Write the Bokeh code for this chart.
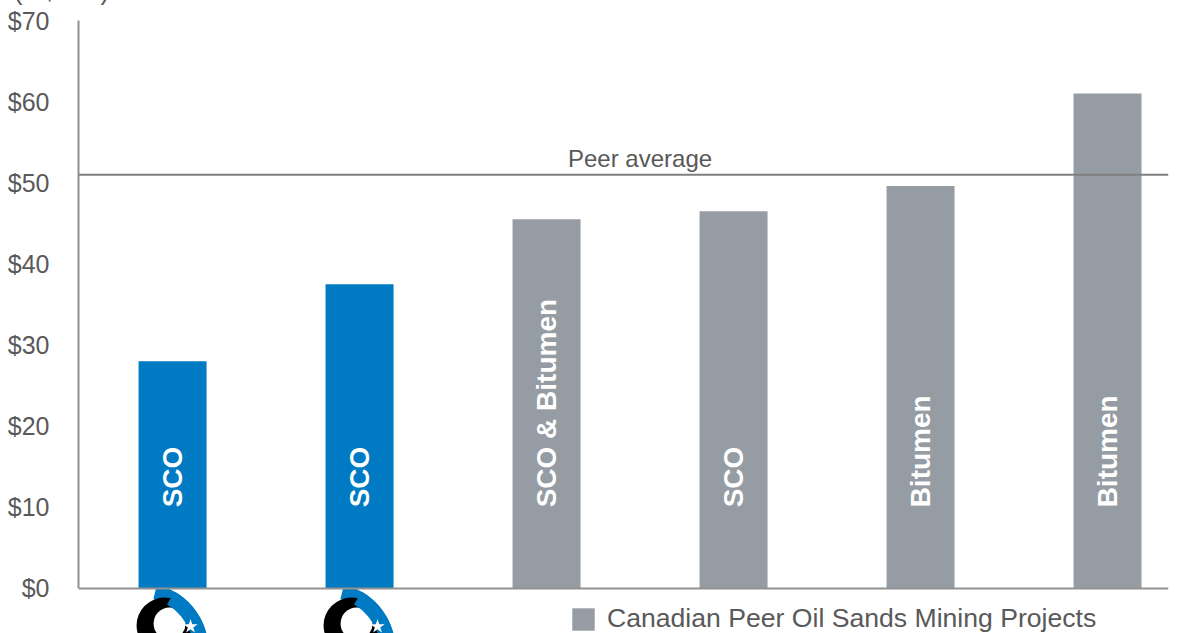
import math
from bokeh.plotting import figure
from bokeh.models import (Range1d, Span, Label, FixedTicker, PrintfTickFormatter,
                          ColumnDataSource, Legend, LegendItem, Title)
from bokeh.core.properties import value
from bokeh.embed import file_html
from bokeh.resources import INLINE

# ---- data ----
projects = ["CNRL Horizon", "CNRL AOSP", "Peer 1", "Peer 2", "Peer 3", "Peer 4"]
product_labels = ["SCO", "SCO", "SCO & Bitumen", "SCO", "Bitumen", "Bitumen"]
costs = [28.0, 37.5, 45.5, 46.5, 49.6, 61.0]
groups = ["own", "own", "peer", "peer", "peer", "peer"]
peer_average = 51.0
y_ticks = [0, 10, 20, 30, 40, 50, 60, 70]
unit_label = "(C$/bbl)"
legend_label = "Canadian Peer Oil Sands Mining Projects"
peer_avg_label = "Peer average"

BLUE = "#007AC2"
GREY = "#959CA3"
TEXT = "#595959"
FONT = "Liberation Sans"

idx = list(range(len(projects)))
own = [i for i in idx if groups[i] == "own"]
peer = [i for i in idx if groups[i] == "peer"]

p = figure(width=1187, height=633, output_backend="svg", toolbar_location=None,
           x_range=Range1d(-0.503, 5.326), y_range=Range1d(-5.546, 70))
p.min_border = 0
p.min_border_left = 78
p.min_border_right = 19
p.min_border_top = 20
p.min_border_bottom = 0
p.outline_line_color = None
p.grid.visible = False
p.background_fill_color = "white"
p.border_fill_color = "white"

# unit label as a title, mostly above the visible area like the reference
p.add_layout(Title(text=unit_label, align="left", offset=-65, standoff=-92,
                   vertical_align="top",
                   text_font_size="27px", text_font_style="normal", text_color=TEXT,
                   text_font=FONT), "above")

p.xaxis.visible = False
ya = p.yaxis[0]
ya.ticker = FixedTicker(ticks=y_ticks)
ya.formatter = PrintfTickFormatter(format="$%d")
ya.bounds = (0, 70)
ya.axis_line_color = "#929292"
ya.axis_line_width = 2
ya.major_tick_line_color = None
ya.minor_tick_line_color = None
ya.major_label_standoff = 23
ya.major_label_text_font_size = "25px"
ya.major_label_text_color = TEXT
ya.major_label_text_font = FONT

bw = 68 / 187
own_src = ColumnDataSource(dict(x=own, top=[costs[i] for i in own]))
peer_src = ColumnDataSource(dict(x=peer, top=[costs[i] for i in peer]))
p.vbar(x="x", top="top", width=bw, bottom=0, source=own_src, fill_color=BLUE, line_color=None)
rpeer = p.vbar(x="x", top="top", width=bw, bottom=0, source=peer_src, fill_color=GREY, line_color=None)

# baseline and peer average
p.add_layout(Span(location=0, dimension="width", line_color="#929292", line_width=2))
p.add_layout(Span(location=peer_average, dimension="width", line_color="#7f7f7f", line_width=2))
p.add_layout(Label(x=2.5, y=peer_average, y_offset=3, text=peer_avg_label, text_align="center",
                   text_baseline="bottom", text_font_size="24px", text_color=TEXT, text_font=FONT))

# bar labels
lab_src = ColumnDataSource(dict(x=idx, y=[10] * len(idx), t=product_labels))
p.text(x="x", y="y", text="t", source=lab_src, angle=math.pi / 2, text_align="left",
       text_baseline="middle", text_color="white", text_font_size="28px",
       text_font_style="bold", text_font=value(FONT))

# logos under own bars (approximate)
ppu = 568 / 70
blue_x = [i - 32 / 187 for i in own]
blue_y = [-62 / ppu] * len(own)
p.annular_wedge(x=blue_x, y=blue_y, inner_radius=53, outer_radius=68,
                inner_radius_units="screen", outer_radius_units="screen",
                start_angle=math.radians(-20), end_angle=math.radians(76),
                fill_color=BLUE, line_color=None)
p.scatter(x=[i - 8 / 187 for i in own], y=[-37 / ppu] * len(own), size=56, marker="circle",
          fill_color="black", line_color=None)
p.scatter(x=[i - 3 / 187 for i in own], y=[-35 / ppu] * len(own), size=32, marker="circle",
          fill_color="white", line_color=None)
p.annular_wedge(x=blue_x, y=blue_y, inner_radius=53, outer_radius=68,
                inner_radius_units="screen", outer_radius_units="screen",
                start_angle=math.radians(-20), end_angle=math.radians(60),
                fill_color=BLUE, line_color=None)
p.scatter(x=[i + 18 / 187 for i in own], y=[-38 / ppu] * len(own), size=15, marker="star",
          fill_color="white", line_color=None)

legend = Legend(items=[LegendItem(label=legend_label, renderers=[rpeer])],
                location=(491, -1), padding=0, margin=0, border_line_color=None,
                background_fill_alpha=0, glyph_width=28, glyph_height=28,
                label_standoff=10, label_text_font_size="26.6px", label_text_color=TEXT,
                label_text_font=FONT, label_height=28)
p.add_layout(legend)

open("out.html", "w").write(file_html(p, INLINE))
